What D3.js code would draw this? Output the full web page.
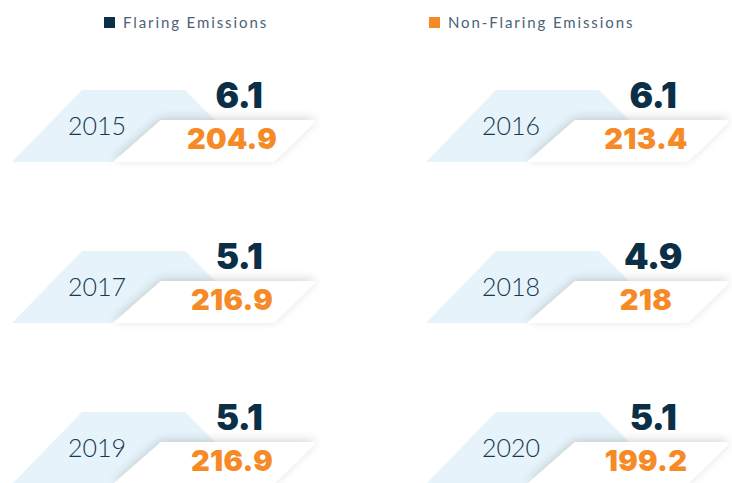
<!DOCTYPE html>
<html>
<head>
<meta charset="utf-8">
<script src="https://cdn.jsdelivr.net/npm/d3@7"></script>
<style>
  body { margin: 0; background: #fff; }
  svg { display: block; }
</style>
</head>
<body>
<div class="container"></div>
<script>
// data
const years = ["2015", "2016", "2017", "2018", "2019", "2020"];
const flaring = [6.1, 6.1, 5.1, 4.9, 5.1, 5.1];
const nonFlaring = [204.9, 213.4, 216.9, 218, 216.9, 199.2];
const seriesNames = ["Flaring Emissions", "Non-Flaring Emissions"];

const navy = "#0b2f47", orange = "#f58a26", paleBlue = "#e6f3fa";

const width = 732, height = 483;

const svg = d3.select(".container")
  .append("svg")
  .attr("width", width)
  .attr("height", height);

const defs = svg.append("defs");
const shadow = defs.append("filter")
  .attr("id", "shadow")
  .attr("x", "-20%").attr("y", "-50%")
  .attr("width", "140%").attr("height", "200%");
shadow.append("feDropShadow")
  .attr("dx", 0).attr("dy", -2)
  .attr("stdDeviation", 5)
  .attr("flood-color", "#000")
  .attr("flood-opacity", 0.16);

// grid: 2 columns, 3 rows
const xCol = d3.scaleLinear().domain([0, 1]).range([12, 426]);
const yRow = d3.scaleLinear().domain([0, 2]).range([90, 412]);

// legend
const legendX = d3.scaleOrdinal().domain(seriesNames).range([104, 429]);
const legendColor = d3.scaleOrdinal().domain(seriesNames).range([navy, orange]);

const legend = svg.selectAll(".legend")
  .data(seriesNames)
  .enter()
  .append("g")
  .attr("class", "legend")
  .attr("transform", d => "translate(" + legendX(d) + ",17)");

legend.append("rect")
  .attr("width", 11)
  .attr("height", 11)
  .attr("fill", d => legendColor(d));

legend.append("text")
  .attr("x", 19)
  .attr("y", 11)
  .attr("font-family", "Lato, sans-serif")
  .attr("font-size", "15px")
  .attr("letter-spacing", "1.9px")
  .attr("fill", "#4a6276")
  .text(d => d);

// cards
const cards = years.map((y, i) => ({
  year: y,
  flaring: flaring[i],
  nonFlaring: nonFlaring[i],
  x0: xCol(i % 2),
  top: yRow(Math.floor(i / 2))
}));

const card = svg.selectAll(".card")
  .data(cards)
  .enter()
  .append("g")
  .attr("class", "card")
  .attr("transform", d => "translate(" + d.x0 + "," + d.top + ")");

card.append("path")
  .attr("fill", paleBlue)
  .attr("d", "M70,0 L173,0 L245,72 L0,72 Z");

card.append("path")
  .attr("fill", "#fff")
  .attr("filter", "url(#shadow)")
  .attr("d", "M149,30 L299,30 Q305,30 301,34 L264,70 Q262,72 258,72 L101,72 Z");

card.append("text")
  .attr("x", 85)
  .attr("y", 45)
  .attr("text-anchor", "middle")
  .attr("font-family", "Lato, sans-serif")
  .attr("font-weight", 300)
  .attr("font-size", "25px")
  .attr("fill", "#173650")
  .text(d => d.year);

card.append("text")
  .attr("x", 227)
  .attr("y", 18)
  .attr("text-anchor", "middle")
  .attr("font-family", "Inter, Roboto, sans-serif")
  .attr("font-weight", 900)
  .attr("font-size", "35px")
  .attr("letter-spacing", "-0.5px")
  .attr("fill", navy)
  .text(d => d3.format(".1f")(d.flaring));

card.append("text")
  .attr("x", 220)
  .attr("y", 59)
  .attr("text-anchor", "middle")
  .attr("font-family", "Inter, Roboto, sans-serif")
  .attr("font-weight", 900)
  .attr("font-size", "29px")
  .attr("letter-spacing", "0.3px")
  .attr("fill", orange)
  .text(d => String(d.nonFlaring));
</script>
</body>
</html>
